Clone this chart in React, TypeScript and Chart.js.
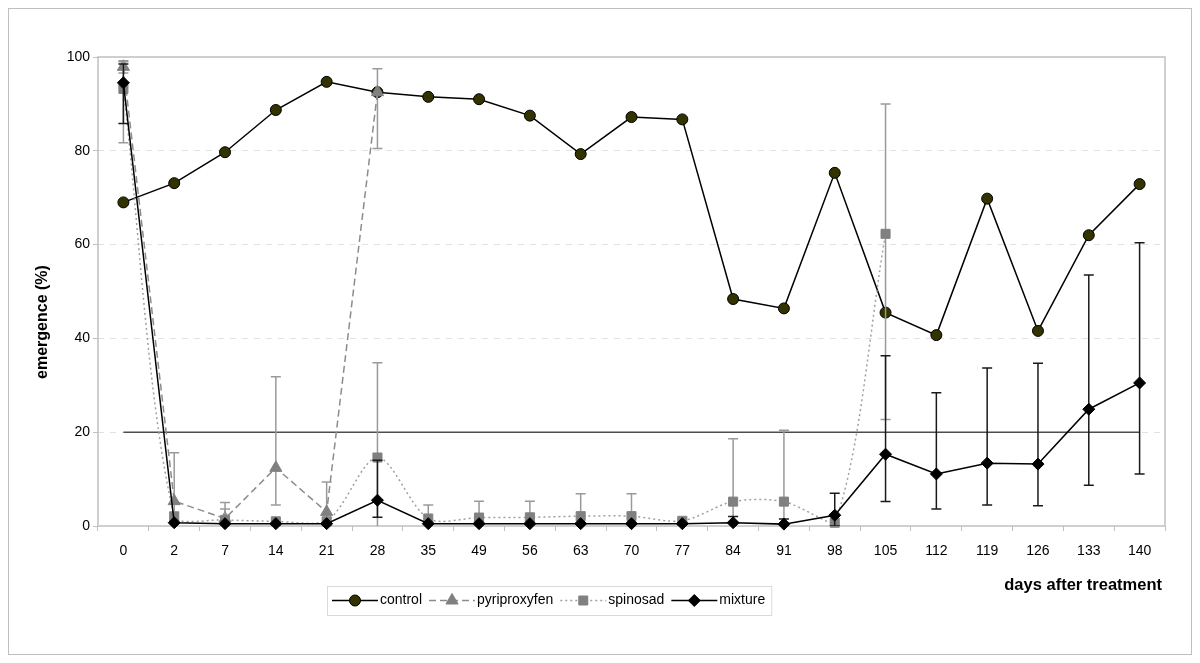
import React, { useEffect, useRef } from 'react';
import { Chart, registerables } from 'chart.js';

Chart.register(...registerables);

const days = ['0', '2', '7', '14', '21', '28', '35', '49', '56', '63', '70', '77', '84', '91', '98', '105', '112', '119', '126', '133', '140'];

const control = [69.0, 73.1, 79.7, 88.7, 94.7, 92.5, 91.5, 91.0, 87.5, 79.3, 87.2, 86.7, 48.4, 46.4, 75.3, 45.5, 40.7, 69.8, 41.6, 62.0, 72.9];

const pyriproxyfen = [97.9, 5.3, 1.6, 12.4, 3.0, 92.5, null, null, null, null, null, null, null, null, null, null, null, null, null, null, null];
const pyriproxyfenErrUp = [1.3, 10.3, 3.4, 19.4, 6.4, 5.0, 0, 0, 0, 0, 0, 0, 0, 0, 0, 0, 0, 0, 0, 0, 0];
const pyriproxyfenErrDown = [1.3, 10.3, 3.4, 7.9, 3.0, 12.0, 0, 0, 0, 0, 0, 0, 0, 0, 0, 0, 0, 0, 0, 0, 0];

const spinosad = [93.2, 2.0, 1.3, 1.0, 1.0, 14.6, 1.6, 1.8, 1.85, 2.1, 2.1, 1.1, 5.2, 5.2, 0.7, 62.3, null, null, null, null, null];
const spinosadErrUp = [5.8, 1.0, 2.3, 0, 0, 20.2, 2.9, 3.5, 3.45, 4.8, 4.8, 0.3, 13.4, 15.2, 0, 27.7, 0, 0, 0, 0, 0];
const spinosadErrDown = [11.5, 1.0, 2.3, 0, 0, 20.2, 2.9, 3.5, 3.45, 4.8, 4.8, 0.3, 13.4, 15.2, 0, 39.6, 0, 0, 0, 0, 0];

const mixture = [94.5, 0.7, 0.5, 0.5, 0.5, 5.5, 0.5, 0.5, 0.5, 0.5, 0.5, 0.5, 0.7, 0.4, 2.3, 15.3, 11.1, 13.4, 13.2, 24.9, 30.5];
const mixtureErrUp = [4.0, 0, 0, 0, 0, 8.5, 0, 0, 0, 0, 0, 0, 1.3, 1.1, 4.7, 21.0, 17.3, 20.3, 21.5, 28.6, 29.9];
const mixtureErrDown = [8.7, 0, 0, 0, 0, 3.65, 0, 0, 0, 0, 0, 0, 1.3, 1.1, 2.3, 10.1, 7.5, 8.9, 8.9, 16.2, 19.4];

const threshold = [20, 20, 20, 20, 20, 20, 20, 20, 20, 20, 20, 20, 20, 20, 20, 20, 20, 20, 20, 20, 20];

const yTicks = [0, 20, 40, 60, 80, 100];

const FONT = "'Liberation Sans', Arial, sans-serif";

const errorBars: Record<string, { up: number[]; down: number[]; color: string }> = {
  pyriproxyfen: { up: pyriproxyfenErrUp, down: pyriproxyfenErrDown, color: '#9a9a9a' },
  spinosad: { up: spinosadErrUp, down: spinosadErrDown, color: '#9a9a9a' },
  mixture: { up: mixtureErrUp, down: mixtureErrDown, color: '#1a1a1a' },
};

function drawMarker(ctx: CanvasRenderingContext2D, style: string, x: number, y: number, fill: string, stroke: string) {
  ctx.save();
  ctx.fillStyle = fill;
  ctx.strokeStyle = stroke;
  ctx.lineWidth = 1;
  ctx.setLineDash([]);
  ctx.beginPath();
  if (style === 'circle') {
    ctx.arc(x, y, 5.5, 0, Math.PI * 2);
  } else if (style === 'triangle') {
    const r = 7;
    ctx.moveTo(x, y - r);
    ctx.lineTo(x + r * Math.cos(Math.PI / 6), y + r / 2);
    ctx.lineTo(x - r * Math.cos(Math.PI / 6), y + r / 2);
    ctx.closePath();
  } else if (style === 'rect') {
    ctx.rect(x - 4.5, y - 4.5, 9, 9);
  } else if (style === 'rectRot') {
    const r = 6;
    ctx.moveTo(x, y - r);
    ctx.lineTo(x + r, y);
    ctx.lineTo(x, y + r);
    ctx.lineTo(x - r, y);
    ctx.closePath();
  }
  ctx.fill();
  ctx.stroke();
  ctx.restore();
}

const decorPlugin = {
  id: 'decor',
  beforeDatasetsDraw(chart: any) {
    const { ctx, chartArea: a } = chart;
    ctx.save();
    ctx.strokeStyle = '#c0c0c0';
    ctx.lineWidth = 1.5;
    ctx.setLineDash([]);
    ctx.strokeRect(a.left, a.top, a.right - a.left, a.bottom - a.top);
    ctx.restore();
  },
  beforeDatasetDraw(chart: any, args: any) {
    const ds = chart.data.datasets[args.index];
    const eb = errorBars[ds.label];
    if (!eb) return;
    const { ctx, chartArea: a } = chart;
    const yScale = chart.scales.y;
    ctx.save();
    ctx.beginPath();
    ctx.rect(a.left, a.top - 1, a.right - a.left, a.bottom - a.top + 1);
    ctx.clip();
    ctx.strokeStyle = eb.color;
    ctx.lineWidth = 1.5;
    ctx.setLineDash([]);
    args.meta.data.forEach((pt: any, i: number) => {
      const v = ds.data[i];
      if (v === null || v === undefined) return;
      const up = eb.up[i];
      const down = eb.down[i];
      const x = pt.x;
      const y0 = yScale.getPixelForValue(v);
      if (up > 0) {
        const y1 = yScale.getPixelForValue(v + up);
        ctx.beginPath();
        ctx.moveTo(x, y0);
        ctx.lineTo(x, y1);
        ctx.moveTo(x - 5, y1);
        ctx.lineTo(x + 5, y1);
        ctx.stroke();
      }
      if (down > 0) {
        const y2 = yScale.getPixelForValue(v - down);
        ctx.beginPath();
        ctx.moveTo(x, y0);
        ctx.lineTo(x, y2);
        ctx.moveTo(x - 5, y2);
        ctx.lineTo(x + 5, y2);
        ctx.stroke();
      }
    });
    ctx.restore();
  },
  afterDraw(chart: any) {
    const { ctx } = chart;
    ctx.save();
    // Axis titles
    ctx.fillStyle = '#000';
    ctx.font = `bold 16.5px ${FONT}`;
    ctx.textAlign = 'right';
    ctx.textBaseline = 'middle';
    ctx.fillText('days after treatment', 1153, 576);
    ctx.save();
    ctx.font = `bold 16px ${FONT}`;
    ctx.translate(34, 313);
    ctx.rotate(-Math.PI / 2);
    ctx.textAlign = 'center';
    ctx.fillText('emergence (%)', 0, 0);
    ctx.restore();

    // Legend
    const items = chart.data.datasets.filter((d: any) => d.showInLegend);
    ctx.font = `14px ${FONT}`;
    const boxLeft = 318;
    const boxTop = 577;
    const boxH = 29;
    const cy = boxTop + boxH / 2;
    let x = 323;
    const entries: any[] = [];
    items.forEach((d: any) => {
      const w = ctx.measureText(d.label).width;
      entries.push({ d, x, w });
      x = x + 48 + w + 7;
    });
    const boxRight = x - 7 + 6;
    ctx.fillStyle = '#fff';
    ctx.fillRect(boxLeft, boxTop, boxRight - boxLeft, boxH);
    ctx.strokeStyle = '#d9d9d9';
    ctx.lineWidth = 1;
    ctx.strokeRect(boxLeft + 0.5, boxTop + 0.5, boxRight - boxLeft, boxH);
    entries.forEach(({ d, x: ex }) => {
      ctx.save();
      ctx.strokeStyle = d.borderColor;
      ctx.lineWidth = d.borderWidth;
      ctx.setLineDash(d.borderDash || []);
      ctx.beginPath();
      ctx.moveTo(ex, cy);
      ctx.lineTo(ex + 46, cy);
      ctx.stroke();
      ctx.restore();
      drawMarker(ctx, d.pointStyle, ex + 23, cy, d.pointBackgroundColor, d.pointBorderColor);
      ctx.fillStyle = '#000';
      ctx.textAlign = 'left';
      ctx.textBaseline = 'middle';
      ctx.fillText(d.label, ex + 48, cy);
    });
    ctx.restore();
  },
};

export default function App() {
  const ref = useRef<HTMLCanvasElement | null>(null);

  useEffect(() => {
    if (!ref.current) return;
    Chart.defaults.font.family = FONT;
    const chart = new Chart(ref.current, {
      type: 'line',
      data: {
        labels: days,
        datasets: [
          {
            label: 'threshold',
            data: threshold,
            borderColor: '#4d4d4d',
            borderWidth: 1.5,
            pointRadius: 0,
            order: 5,
            clip: false,
          } as any,
          {
            label: 'control',
            data: control,
            borderColor: '#000000',
            borderWidth: 1.5,
            pointStyle: 'circle',
            pointRadius: 5.5,
            pointBackgroundColor: '#333300',
            pointBorderColor: '#000000',
            pointBorderWidth: 1,
            order: 4,
            clip: false,
            showInLegend: true,
          } as any,
          {
            label: 'pyriproxyfen',
            data: pyriproxyfen,
            borderColor: '#8c8c8c',
            borderWidth: 1.5,
            borderDash: [7, 4],
            pointStyle: 'triangle',
            pointRadius: 7,
            pointBackgroundColor: '#808080',
            pointBorderColor: '#808080',
            pointBorderWidth: 1,
            order: 3,
            clip: false,
            showInLegend: true,
          } as any,
          {
            label: 'spinosad',
            data: spinosad,
            borderColor: '#a0a0a0',
            borderWidth: 1.5,
            borderDash: [2, 3],
            tension: 0.3,
            pointStyle: 'rect',
            pointRadius: 6.4,
            pointBackgroundColor: '#808080',
            pointBorderColor: '#808080',
            pointBorderWidth: 1,
            order: 2,
            clip: false,
            showInLegend: true,
          } as any,
          {
            label: 'mixture',
            data: mixture,
            borderColor: '#000000',
            borderWidth: 1.5,
            pointStyle: 'rectRot',
            pointRadius: 6,
            pointBackgroundColor: '#000000',
            pointBorderColor: '#000000',
            pointBorderWidth: 1,
            order: 1,
            clip: false,
            showInLegend: true,
          } as any,
        ],
      },
      options: {
        animation: false,
        responsive: false,
        maintainAspectRatio: false,
        layout: { padding: { left: 0, top: 48, right: 26, bottom: 0 } },
        plugins: {
          legend: { display: false },
          tooltip: { enabled: false },
          title: { display: false },
        },
        scales: {
          x: {
            type: 'category',
            offset: true,
            grid: {
              offset: true,
              drawOnChartArea: false,
              drawTicks: true,
              tickLength: 5,
              color: '#c0c0c0',
              tickColor: '#c0c0c0',
            },
            border: { display: false },
            ticks: {
              autoSkip: false,
              maxRotation: 0,
              minRotation: 0,
              padding: 12,
              color: '#000',
              font: { size: 14, family: FONT },
            },
            afterFit(scale: any) {
              scale.height = 128;
            },
          },
          y: {
            min: 0,
            max: 100,
            afterBuildTicks(scale: any) {
              scale.ticks = yTicks.map((v) => ({ value: v }));
            },
            grid: {
              drawTicks: true,
              tickLength: 5,
              tickColor: '#c0c0c0',
              color: (c: any) => (c.tick && (c.tick.value === 0 || c.tick.value === 100) ? 'rgba(0,0,0,0)' : '#e3e3e3'),
              lineWidth: 1,
            },
            border: { display: false, dash: [6, 6] },
            ticks: {
              padding: 3,
              color: '#000',
              font: { size: 14, family: FONT },
            },
            afterFit(scale: any) {
              scale.width = 89;
            },
          },
        },
      } as any,
      plugins: [decorPlugin as any],
    });
    return () => chart.destroy();
  }, []);

  return (
    <div style={{ width: 1182, height: 645, border: '1px solid #bfbfbf', background: '#fff' }}>
      <canvas ref={ref} width={1182} height={645} style={{ display: 'block', width: 1182, height: 645 }} />
    </div>
  );
}
